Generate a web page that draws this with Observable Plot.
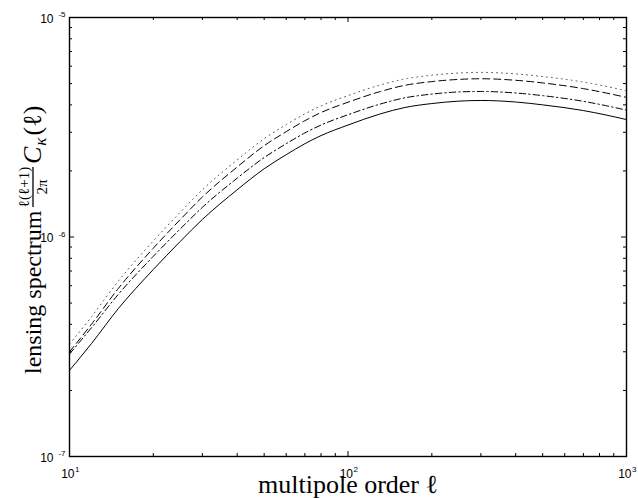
<!DOCTYPE html>
<html><head><meta charset="utf-8">
<script src="https://cdn.jsdelivr.net/npm/d3@7"></script>
<script src="https://cdn.jsdelivr.net/npm/@observablehq/plot@0.6"></script>
<style>body{margin:0;background:#fff} svg{display:block}</style>
</head><body><div id="chart"></div>
<script>
const ell = [10,12,15,20,25,30,40,50,60,70,80,100,130,160,200,250,300,400,500,700,1000];
const solid = [2.466e-7,3.273e-7,4.732e-7,7.112e-7,9.55e-7,1.202e-6,1.641e-6,2.046e-6,2.371e-6,2.661e-6,2.897e-6,3.236e-6,3.631e-6,3.890e-6,4.055e-6,4.159e-6,4.188e-6,4.121e-6,4.000e-6,3.767e-6,3.428e-6];
const dashDot = [2.931e-7,3.864e-7,5.495e-7,8.166e-7,1.089e-6,1.365e-6,1.854e-6,2.301e-6,2.661e-6,2.979e-6,3.236e-6,3.606e-6,4.027e-6,4.305e-6,4.477e-6,4.581e-6,4.603e-6,4.529e-6,4.406e-6,4.150e-6,3.784e-6];
const dashed = [2.999e-7,4.009e-7,5.848e-7,8.892e-7,1.202e-6,1.521e-6,2.084e-6,2.606e-6,3.020e-6,3.388e-6,3.690e-6,4.111e-6,4.592e-6,4.909e-6,5.105e-6,5.224e-6,5.260e-6,5.176e-6,5.035e-6,4.742e-6,4.325e-6];
const dotted = [3.251e-7,4.335e-7,6.310e-7,9.594e-7,1.297e-6,1.641e-6,2.244e-6,2.805e-6,3.251e-6,3.639e-6,3.954e-6,4.406e-6,4.920e-6,5.248e-6,5.458e-6,5.585e-6,5.623e-6,5.534e-6,5.383e-6,5.082e-6,4.634e-6];
const xMajor = [10,100,1000];
const xExp = ["1","2","3"];
const xMinor = [20,30,40,50,60,70,80,90,200,300,400,500,600,700,800,900];
const yMajor = [1e-7,1e-6,1e-5];
const yExp = ["-7","-6","-5"];
const yMinor = [2e-7,3e-7,4e-7,5e-7,6e-7,7e-7,8e-7,9e-7,2e-6,3e-6,4e-6,5e-6,6e-6,7e-6,8e-6,9e-6];
const xLabel = "multipole order \u2113";
const yLabelMain = "lensing spectrum";
const yLabelNum = "\u2113(\u2113+1)";
const yLabelDen = "2\u03C0";

const W = 638, H = 498;
const mL = 69, mR = 12, mT = 17, mB = 42;
const fw = W - mL - mR, fh = H - mT - mB;
const serif = "'Liberation Serif', 'Times New Roman', serif";
const toRows = (vals) => ell.map((l, i) => ({l, v: vals[i]}));
const lineOpts = {x: "l", y: "v", stroke: "black", strokeWidth: 1, curve: "monotone-x"};

const plot = Plot.plot({
  width: W, height: H,
  marginLeft: mL, marginRight: mR, marginTop: mT, marginBottom: mB,
  style: {background: "white", fontFamily: "'Liberation Sans', Arial, sans-serif", color: "black"},
  x: {type: "log", domain: [10, 1000], axis: null},
  y: {type: "log", domain: [1e-7, 1e-5], axis: null},
  marks: [
    Plot.line(toRows(solid), {...lineOpts}),
    Plot.line(toRows(dashDot), {...lineOpts, strokeDasharray: "6.5,3,1.5,3"}),
    Plot.line(toRows(dashed), {...lineOpts, strokeDasharray: "7,4"}),
    Plot.line(toRows(dotted), {...lineOpts, stroke: "#555", strokeDasharray: "1,4"}),
    Plot.tickX(xMajor, {x: d => d, insetTop: fh - 5, stroke: "black"}),
    Plot.tickX(xMajor, {x: d => d, insetBottom: fh - 5, stroke: "black"}),
    Plot.tickX(xMinor, {x: d => d, insetTop: fh - 3, stroke: "black"}),
    Plot.tickX(xMinor, {x: d => d, insetBottom: fh - 3, stroke: "black"}),
    Plot.tickY(yMajor, {y: d => d, insetRight: fw - 5, stroke: "black"}),
    Plot.tickY(yMajor, {y: d => d, insetLeft: fw - 5, stroke: "black"}),
    Plot.tickY(yMinor, {y: d => d, insetRight: fw - 3, stroke: "black"}),
    Plot.tickY(yMinor, {y: d => d, insetLeft: fw - 3, stroke: "black"}),
    Plot.frame({stroke: "black", strokeWidth: 1.4}),
    Plot.text(xMajor, {x: d => d, frameAnchor: "bottom", text: () => "10", textAnchor: "end", dx: 5, dy: 21, lineAnchor: "bottom", fontSize: 12, fill: "black"}),
    Plot.text(xMajor, {x: d => d, frameAnchor: "bottom", text: (d, i) => xExp[i], textAnchor: "start", dx: 5.5, dy: 15, lineAnchor: "bottom", fontSize: 8, fill: "black"}),
    Plot.text(yMajor, {y: d => d, frameAnchor: "left", text: () => "10", textAnchor: "end", dx: -16, dy: 5, lineAnchor: "bottom", fontSize: 12, fill: "black"}),
    Plot.text(yMajor, {y: d => d, frameAnchor: "left", text: (d, i) => yExp[i], textAnchor: "end", dx: -4, dy: -0.5, lineAnchor: "bottom", fontSize: 8, fill: "black"}),
    Plot.text([xLabel], {frameAnchor: "bottom", text: d => d, dy: 36, lineAnchor: "bottom", fontSize: 26, fontFamily: serif, fill: "black"})
  ]
});
document.getElementById("chart").appendChild(plot);

// y label with fraction, rotated (u = -screenY, v = screenX - xb)
const xb = 41;
const g = d3.select(plot).append("g")
  .attr("transform", `translate(${xb}, 0) rotate(-90)`)
  .attr("font-family", serif).attr("fill", "black").attr("text-anchor", "start");
g.append("text").attr("font-size", 24).attr("text-anchor", "start").attr("x", -374).text(yLabelMain);
const fc = -187, halfW = 20;
g.append("text").attr("font-size", 15).attr("text-anchor", "middle").attr("x", fc).attr("y", -12).text(yLabelNum);
g.append("text").attr("font-size", 15).attr("text-anchor", "middle").attr("x", fc).attr("y", 6).text(yLabelDen);
g.append("line").attr("x1", fc - halfW).attr("x2", fc + halfW).attr("y1", -8).attr("y2", -8)
  .attr("stroke", "black").attr("stroke-width", 1.3);
const ct = g.append("text").attr("font-size", 26).attr("text-anchor", "start").attr("x", -164);
ct.append("tspan").attr("font-style", "italic").text("C");
ct.append("tspan").attr("font-style", "italic").attr("font-size", 17).attr("dy", 5).attr("dx", 1).text("\u03BA");
ct.append("tspan").attr("dy", -5).attr("dx", 2).text("(\u2113)");
</script>
</body></html>
